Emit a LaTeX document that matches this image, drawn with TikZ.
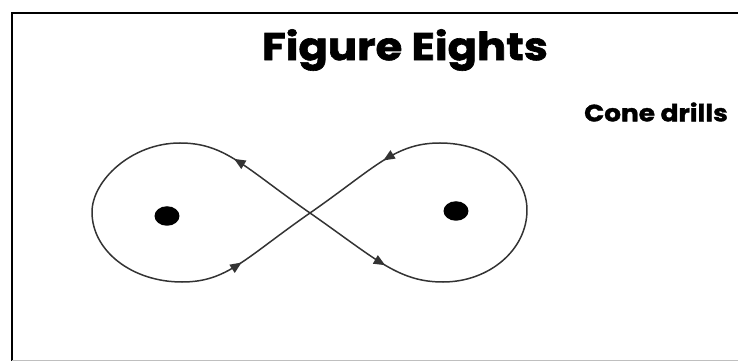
\documentclass[tikz,border=0pt]{standalone}
\usepackage{fontspec}
\setmainfont{Poppins}
\newfontfamily\heavyfont{Poppins}[BoldFeatures={FakeBold=1.6},FakeStretch=1.12]
\usetikzlibrary{arrows.meta,decorations.markings,shapes.geometric}
\tikzset{
  loopline/.style={draw=black!80,line width=0.85pt,line cap=round},
  flowarrow/.style={loopline,postaction={decorate},decoration={markings,mark=at position #1 with {\arrow{Triangle[length=6.5pt,width=5.4pt]}}}},
  spot/.style={ellipse,fill=black,inner sep=0pt,minimum width=0.5cm,minimum height=0.39cm},
}
\begin{document}
\begin{tikzpicture}[x=0.02cm,y=-0.02cm]
\useasboundingbox(0,0)rectangle(738,361);
% frame
\draw[line width=1.7pt](12,361)--(12,13)--(738,13);\draw[black!25,line width=0.5pt](12,360)--(738,360);
% texts
\node[font=\heavyfont\bfseries\fontsize{22}{24}\selectfont](title)at(405,50){Figure Eights};
\node[font=\heavyfont\bfseries\fontsize{13.4}{15}\selectfont](cone)at(656,112){Cone drills};
% cones
\node[spot](leftspot)at(167,216){};\node[spot](rightspot)at(456,211){};
% figure eight
\coordinate(cross)at(310,213);
\coordinate(ltop)at(180,143);\coordinate(lside)at(92,212);\coordinate(lbot)at(182,282);
\coordinate(rtop)at(440,143);\coordinate(rside)at(527,210);\coordinate(rbot)at(443,282);
\draw[flowarrow=0.62](cross).. controls (244,167) and (225,143) ..(ltop);
\draw[loopline](ltop).. controls (131,143) and (92,181) ..(lside).. controls (92,251) and (132,282) ..(lbot);
\draw[flowarrow=0.43](lbot).. controls (227,282) and (244,259) ..(cross);
\draw[flowarrow=0.6](cross).. controls (376,259) and (398,282) ..(rbot);
\draw[loopline](rbot).. controls (489,282) and (527,250) ..(rside).. controls (527,173) and (488,143) ..(rtop);
\draw[flowarrow=0.4](rtop).. controls (395,143) and (376,167) ..(cross);
\end{tikzpicture}
\end{document}
